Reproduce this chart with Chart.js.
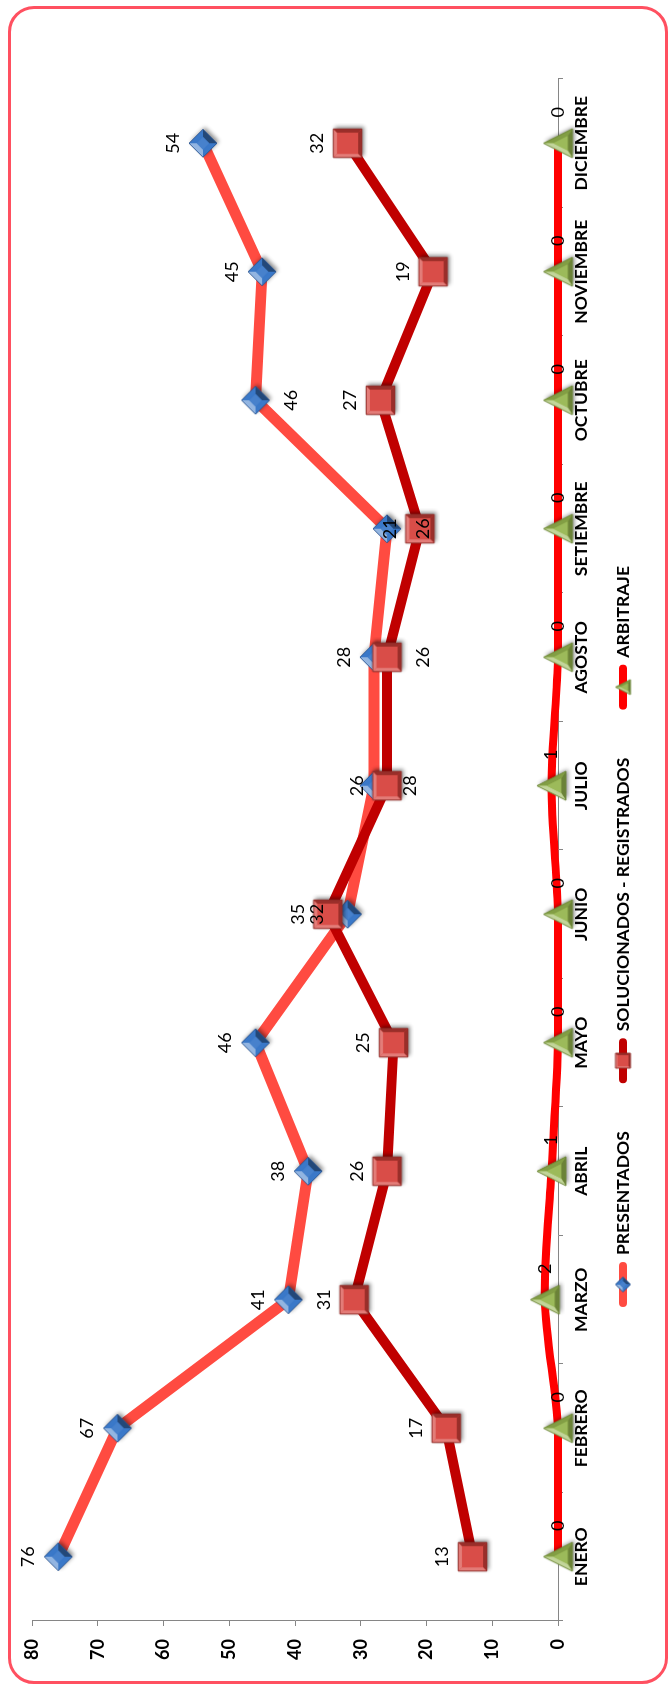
<!DOCTYPE html>
<html>
<head>
<meta charset="utf-8">
<script src="https://cdn.jsdelivr.net/npm/chart.js@4.4.1/dist/chart.umd.min.js"></script>
<style>
  html, body { margin: 0; padding: 0; background: #ffffff; }
  body { width: 669px; height: 1685px; position: relative; overflow: hidden; }
  #frame { position: absolute; left: 8px; top: 6px; width: 660px; height: 1678px;
           border: 3px solid #FF5060; border-radius: 26px; box-sizing: border-box; }
  #wrap { position: absolute; left: 0; top: 0; width: 1685px; height: 669px;
          transform-origin: 0 0; transform: translateY(1685px) rotate(-90deg); }
  canvas { display: block; }
</style>
</head>
<body>
<div id="frame"></div>
<div id="wrap"><canvas id="c" width="1685" height="669"></canvas></div>
<script>
// ---------------- data ----------------
const categories = ['ENERO','FEBRERO','MARZO','ABRIL','MAYO','JUNIO','JULIO','AGOSTO','SETIEMBRE','OCTUBRE','NOVIEMBRE','DICIEMBRE'];
const presentados  = [76, 67, 41, 38, 46, 32, 28, 28, 26, 46, 45, 54];
const solucionados = [13, 17, 31, 26, 25, 35, 26, 26, 21, 27, 19, 32];
const arbitraje    = [0, 0, 2, 1, 0, 0, 1, 0, 0, 0, 0, 0];
const valueTicks   = [0, 10, 20, 30, 40, 50, 60, 70, 80];
const seriesNames  = ['PRESENTADOS', 'SOLUCIONADOS - REGISTRADOS', 'ARBITRAJE'];
// where each value label sits relative to its point: a = above, b = below, r = right
const presentadosLabelSide  = ['a','a','a','a','a','a','b','a','b','b','a','a'];
const solucionadosLabelSide = ['a','a','a','a','a','a','a','b','a','a','a','a'];
const arbitrajeLabelSide    = ['r','r','r','r','r','r','r','r','r','r','r','r'];

// ---------------- fonts ----------------
const FAMILY = 'Lato, "Open Sans", "DejaVu Sans", sans-serif';
const boldSize  = 17.5;
const tickSize  = 18;
const labelSize = 18;

// ---------------- marker images ----------------
function hexToRgb(h) { h = h.replace('#',''); return [parseInt(h.substr(0,2),16), parseInt(h.substr(2,2),16), parseInt(h.substr(4,2),16)]; }
function shade(rgb, f) {
  const r = f >= 0 ? rgb.map(v => Math.round(v + (255 - v) * f * 0.45)) : rgb.map(v => Math.round(v * (1 + f * 0.4)));
  return 'rgb(' + r.join(',') + ')';
}
function makeMarker(kind, s, base, edge, shadow) {
  const pad = 6;
  const size = Math.ceil(2 * s + 2 * pad);
  const cv = document.createElement('canvas');
  cv.width = size; cv.height = size;
  const g = cv.getContext('2d');
  g.translate(size / 2, size / 2);
  let outer, cx = 0, cy = 0, k;
  if (kind === 'diamond') { outer = [[-s,0],[0,-s],[s,0],[0,s]]; k = 0.45; }
  else if (kind === 'square') { outer = [[-s,-s],[s,-s],[s,s],[-s,s]]; k = 0.74; }
  else { outer = [[0,-s],[s,s],[-s,s]]; cy = s / 3; k = 0.5; }
  const inner = outer.map(p => [cx + (p[0] - cx) * k, cy + (p[1] - cy) * k]);
  const poly = pts => { g.beginPath(); pts.forEach((p, i) => i ? g.lineTo(p[0], p[1]) : g.moveTo(p[0], p[1])); g.closePath(); };
  const rgb = hexToRgb(base);
  g.save();
  if (shadow) { g.shadowColor = 'rgba(0,0,0,0.45)'; g.shadowBlur = 4; g.shadowOffsetX = 2; g.shadowOffsetY = 2; }
  poly(outer); g.fillStyle = base; g.fill();
  g.restore();
  const L = [-Math.SQRT1_2, -Math.SQRT1_2];
  const n = outer.length;
  for (let i = 0; i < n; i++) {
    const a = outer[i], b = outer[(i + 1) % n], c = inner[(i + 1) % n], d = inner[i];
    let nx = b[1] - a[1], ny = -(b[0] - a[0]);
    const len = Math.hypot(nx, ny); nx /= len; ny /= len;
    poly([a, b, c, d]);
    g.fillStyle = shade(rgb, nx * L[0] + ny * L[1]);
    g.fill();
  }
  poly(inner); g.fillStyle = shade(rgb, 0.15); g.fill();
  poly(outer); g.lineWidth = 0.9; g.strokeStyle = edge; g.stroke();
  return cv;
}
const diamondImg  = makeMarker('diamond', 14, '#3A78C8', '#2A5590', true);
const squareImg   = makeMarker('square', 14.3, '#D6403B', '#8A2A27', true);
const triangleImg = makeMarker('triangle', 14.5, '#95B54E', '#6A8535', true);
const legendMarkers = [
  makeMarker('diamond', 7.5, '#3A78C8', '#2A5590', false),
  makeMarker('square', 7.5, '#D6403B', '#8A2A27', false),
  makeMarker('triangle', 7.5, '#95B54E', '#6A8535', false)
];

// ---------------- plugins ----------------
const pointLabels = {
  id: 'pointLabels',
  afterDatasetsDraw(chart) {
    const ctx = chart.ctx;
    ctx.save();
    ctx.font = 'normal ' + labelSize + 'px ' + FAMILY;
    ctx.fillStyle = '#000';
    ctx.textAlign = 'center';
    ctx.textBaseline = 'middle';
    chart.data.datasets.forEach((ds, di) => {
      const meta = chart.getDatasetMeta(di);
      meta.data.forEach((pt, i) => {
        const side = ds.labelSide[i];
        let x = pt.x, y = pt.y;
        if (side === 'a') y -= 30;
        else if (side === 'b') y += 36;
        else x += 31;
        ctx.fillText(String(ds.data[i]), x, y);
      });
    });
    ctx.restore();
  }
};
const sideLegend = {
  id: 'sideLegend',
  afterDraw(chart) {
    const ctx = chart.ctx;
    const y = 623;
    let x = 378;
    ctx.save();
    ctx.font = 'bold ' + boldSize + 'px ' + FAMILY;
    ctx.textBaseline = 'middle';
    ctx.textAlign = 'left';
    chart.data.datasets.forEach((ds, i) => {
      ctx.strokeStyle = ds.borderColor;
      ctx.lineWidth = 8;
      ctx.lineCap = 'round';
      ctx.beginPath(); ctx.moveTo(x + 4, y); ctx.lineTo(x + 41, y); ctx.stroke();
      const img = legendMarkers[i];
      ctx.drawImage(img, x + 22.5 - img.width / 2, y - img.height / 2);
      ctx.fillStyle = '#000';
      ctx.fillText(ds.label, x + 52, y);
      x += 52 + ctx.measureText(ds.label).width + 48;
    });
    ctx.restore();
  }
};

// ---------------- chart ----------------
const axisGrey = '#868686';
new Chart(document.getElementById('c'), {
  type: 'line',
  data: {
    labels: categories,
    datasets: [
      { label: seriesNames[0], data: presentados, labelSide: presentadosLabelSide,
        borderColor: '#FF4B41', borderWidth: 11, pointStyle: diamondImg, pointRadius: 14,
        borderJoinStyle: 'round', borderCapStyle: 'round', tension: 0, order: 3, clip: false },
      { label: seriesNames[1], data: solucionados, labelSide: solucionadosLabelSide,
        borderColor: '#C00000', borderWidth: 10, pointStyle: squareImg, pointRadius: 14,
        borderJoinStyle: 'round', borderCapStyle: 'round', tension: 0, order: 2, clip: false },
      { label: seriesNames[2], data: arbitraje, labelSide: arbitrajeLabelSide,
        borderColor: '#FF0000', borderWidth: 8, pointStyle: triangleImg, pointRadius: 14,
        borderJoinStyle: 'round', borderCapStyle: 'round', tension: 0.3, order: 1, clip: false }
    ]
  },
  options: {
    responsive: false,
    animation: false,
    devicePixelRatio: 1,
    layout: { padding: { left: 0, right: 79, top: 32, bottom: 0 } },
    plugins: { legend: { display: false }, tooltip: { enabled: false } },
    scales: {
      x: {
        type: 'category', offset: true,
        grid: { display: true, drawOnChartArea: false, offset: true, tickLength: 5, color: axisGrey, lineWidth: 1 },
        border: { display: true, color: axisGrey, width: 1 },
        ticks: { font: { family: FAMILY, size: boldSize, weight: 'bold' }, color: '#000', padding: 8, maxRotation: 0, autoSkip: false },
        afterFit(s) { s.height = 111; }
      },
      y: {
        min: 0, max: 80,
        afterBuildTicks(s) { s.ticks = valueTicks.map(v => ({ value: v })); },
        grid: { display: true, drawOnChartArea: false, tickLength: 5, color: axisGrey, lineWidth: 1 },
        border: { display: true, color: axisGrey, width: 1 },
        ticks: { font: { family: FAMILY, size: tickSize, weight: 'bold' }, color: '#000', padding: 13 },
        afterFit(s) { s.width = 64; }
      }
    }
  },
  plugins: [pointLabels, sideLegend]
});
</script>
</body>
</html>
